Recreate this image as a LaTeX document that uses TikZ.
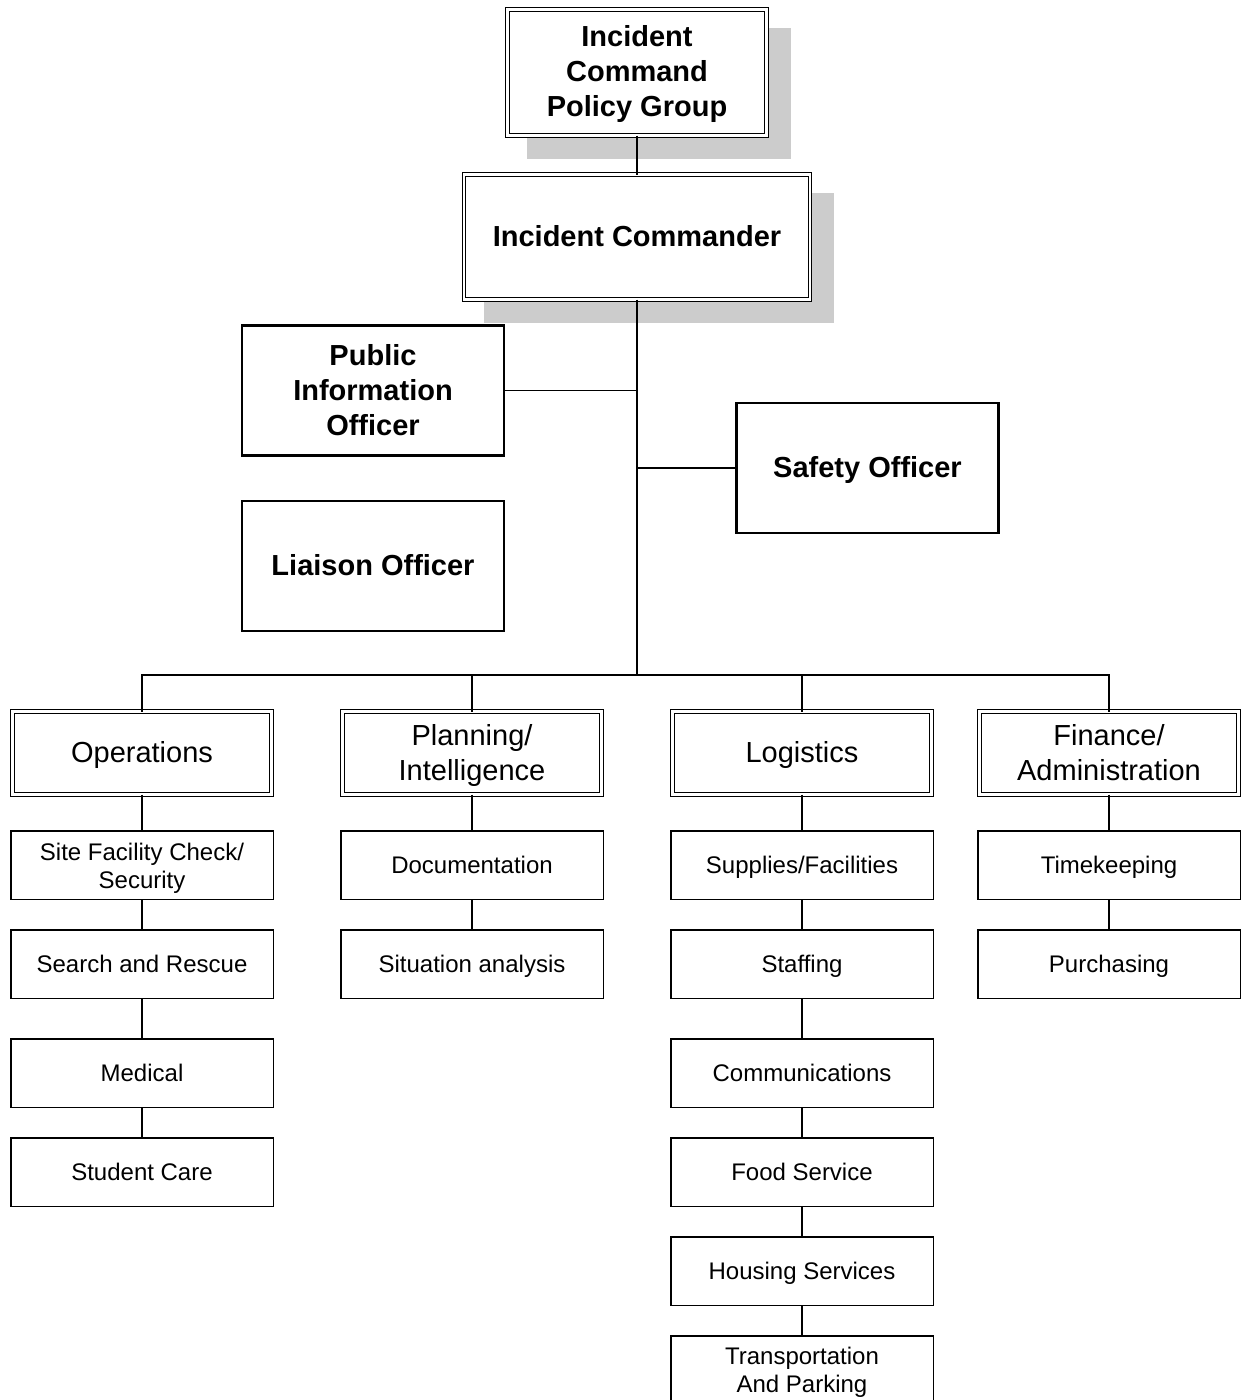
\documentclass[tikz,border=0pt]{standalone}
\usepackage{fontspec}
\setmainfont{Liberation Sans}
\usetikzlibrary{backgrounds}
\definecolor{shadowgray}{RGB}{204,204,204}
\tikzset{
  bigfont/.style={font=\fontsize{29}{35}\selectfont},
  bigbold/.style={font=\bfseries\fontsize{29}{35}\selectfont},
  smallfont/.style={font=\fontsize{24}{28.5}\selectfont},
  bigone/.style={text height=24pt, text depth=5pt},
  smallone/.style={text height=19pt, text depth=2.4pt},
  dbox/.style={draw, line width=1.3pt, double, double distance=2.2pt, fill=white, inner sep=0pt, outer sep=0pt, align=center},
  offbox/.style={draw, line width=2.5pt, fill=white, inner sep=0pt, outer sep=0pt, align=center, minimum width=262pt, minimum height=130pt, bigbold},
  subbox/.style={draw, line width=1.5pt, fill=white, inner sep=0pt, outer sep=0pt, align=center, minimum width=262.5pt, minimum height=68.5pt, smallfont},
  secbox/.style={dbox, minimum width=259pt, minimum height=83pt, bigfont},
  conn/.style={line width=1.5pt},
}
\begin{document}
\begin{tikzpicture}[x=1pt, y=-1pt]
\clip (0,0) rectangle (1243,1400);
% top boxes
\node[dbox, bigbold, minimum width=259pt, minimum height=126pt] (icpg) at (637,72.5) {\rule{0pt}{25pt}Incident\\Command\\Policy Group};
\node[dbox, bigbold, bigone, minimum width=346pt, minimum height=125pt] (ic) at (637,237) {Incident Commander};
\begin{pgfonlayer}{background}
\fill[shadowgray] ([shift={(19.6,18.6)}]icpg.north west) rectangle ([shift={(24.4,23.4)}]icpg.south east);
\fill[shadowgray] ([shift={(19.6,18.6)}]ic.north west) rectangle ([shift={(24.4,23.4)}]ic.south east);
\end{pgfonlayer}
% officers
\node[offbox] (pio) at (373,390.5) {Public\\Information\\Officer};
\node[offbox, bigone] (safety) at (867.5,468) {Safety Officer};
\node[offbox, bigone] (liaison) at (373,566) {Liaison Officer};
% sections
\node[secbox, bigone] (ops) at (142,753) {Operations};
\node[secbox] (plan) at (472,753) {\rule{0pt}{25pt}Planning/\\Intelligence};
\node[secbox, bigone] (log) at (802,753) {Logistics};
\node[secbox] (fin) at (1109,753) {Finance/\\Administration};
% operations subs
\node[subbox] (ops1) at (142,865) {\rule{0pt}{24pt}Site Facility Check/\\Security};
\node[subbox, smallone] (ops2) at (142,964) {Search and Rescue};
\node[subbox, smallone] (ops3) at (142,1073) {Medical};
\node[subbox, smallone] (ops4) at (142,1172) {Student Care};
% planning subs
\node[subbox, smallone] (plan1) at (472,865) {Documentation};
\node[subbox, smallone] (plan2) at (472,964) {Situation analysis};
% logistics subs
\node[subbox, smallone] (log1) at (802,865) {Supplies/Facilities};
\node[subbox, smallone] (log2) at (802,964) {Staffing};
\node[subbox, smallone] (log3) at (802,1073) {Communications};
\node[subbox, smallone] (log4) at (802,1172) {Food Service};
\node[subbox, smallone] (log5) at (802,1271) {Housing Services};
\node[subbox] (log6) at (802,1370) {\rule{0pt}{22pt}Transportation\\And Parking};
% finance subs
\node[subbox, smallone] (fin1) at (1109,865) {Timekeeping};
\node[subbox, smallone] (fin2) at (1109,964) {Purchasing};
% connectors
\coordinate (bus) at (637,675);
\draw[conn] (icpg.south) -- (ic.north);
\draw[conn] (ic.south) -- (bus);
\draw[conn] (pio.east) -- (pio.east -| ic.south);
\draw[conn] (safety.west) -- (safety.west -| ic.south);
\draw[conn] (bus) -| (ops.north);
\draw[conn] (bus) -| (plan.north);
\draw[conn] (bus) -| (log.north);
\draw[conn] (bus) -| (fin.north);
\draw[conn] (ops.south) -- (ops1.north);
\draw[conn] (ops1.south) -- (ops2.north);
\draw[conn] (ops2.south) -- (ops3.north);
\draw[conn] (ops3.south) -- (ops4.north);
\draw[conn] (plan.south) -- (plan1.north);
\draw[conn] (plan1.south) -- (plan2.north);
\draw[conn] (log.south) -- (log1.north);
\draw[conn] (log1.south) -- (log2.north);
\draw[conn] (log2.south) -- (log3.north);
\draw[conn] (log3.south) -- (log4.north);
\draw[conn] (log4.south) -- (log5.north);
\draw[conn] (log5.south) -- (log6.north);
\draw[conn] (fin.south) -- (fin1.north);
\draw[conn] (fin1.south) -- (fin2.north);
\end{tikzpicture}
\end{document}
